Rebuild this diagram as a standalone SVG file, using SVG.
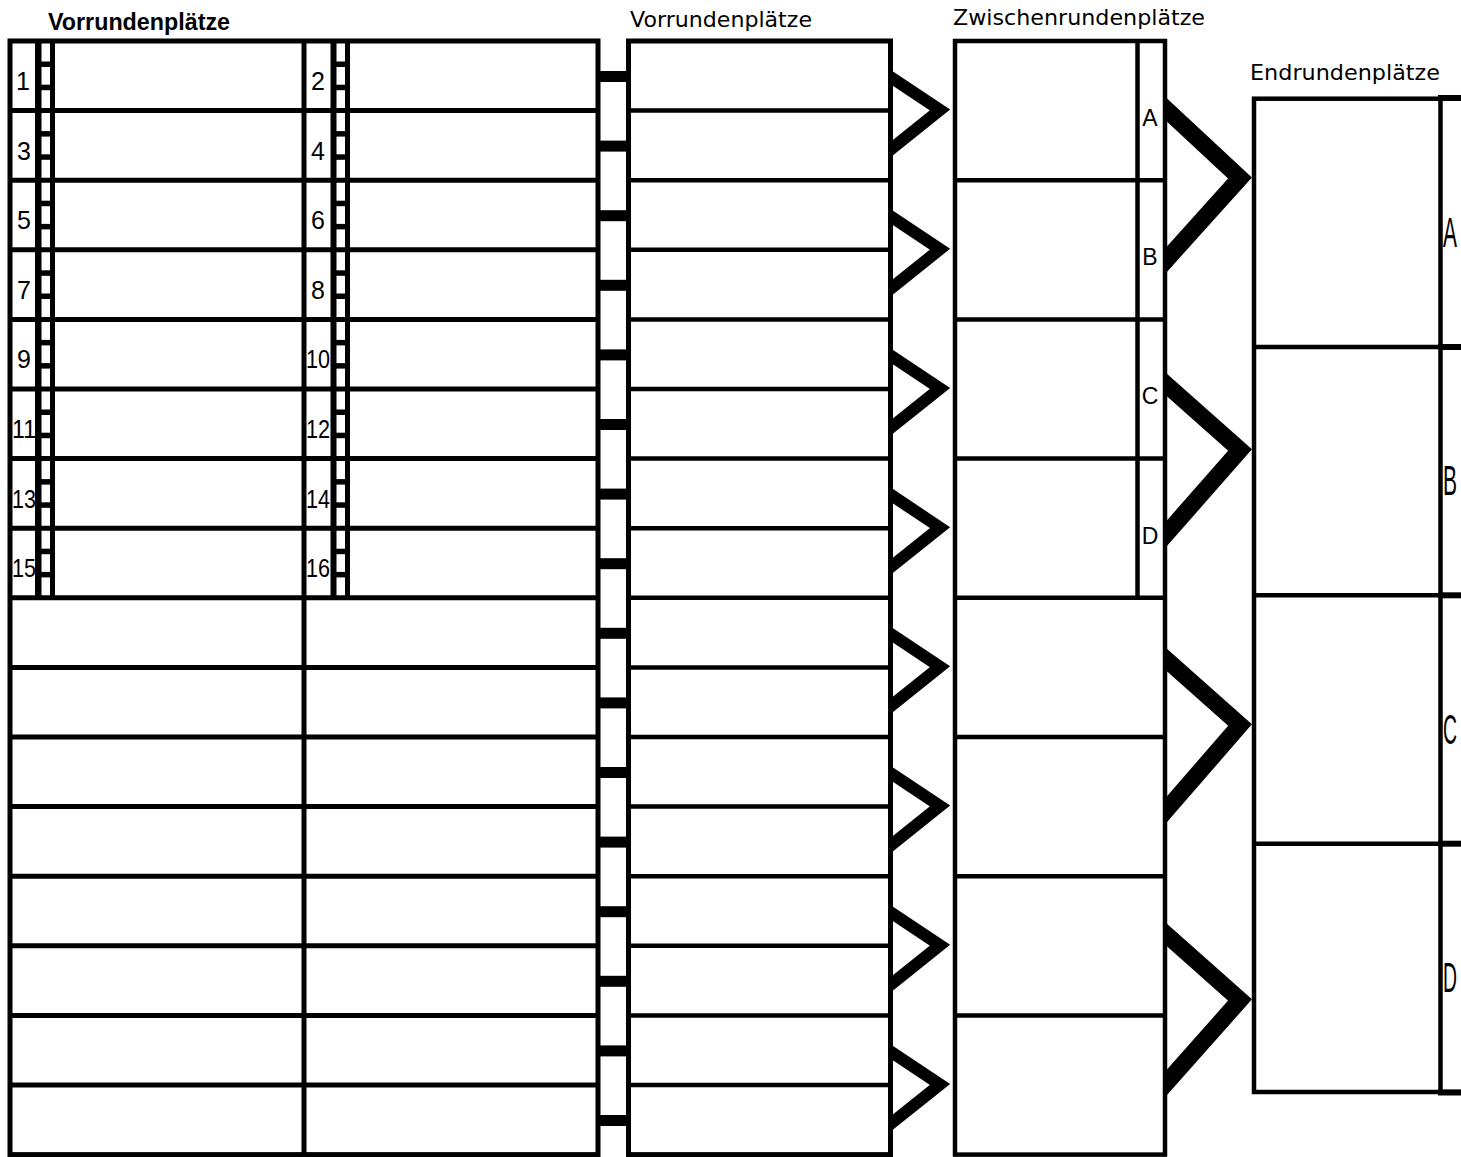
<svg xmlns="http://www.w3.org/2000/svg" width="1461" height="1157" viewBox="0 0 1461 1157">
<style>
.blk{fill:#fff;stroke:#000;stroke-width:5}
.ln{stroke:#000;stroke-width:5;fill:none}
.ln4{stroke:#000;stroke-width:4.5;fill:none}
.bar{fill:#000}
.chev{fill:none;stroke:#000;stroke-width:12;stroke-linejoin:miter;stroke-miterlimit:10}
.chevb{fill:none;stroke:#000;stroke-width:17;stroke-linejoin:miter;stroke-miterlimit:10}
.num{font-family:"Liberation Sans",Arial,sans-serif;font-size:25px;fill:#000;text-anchor:middle}
.let{font-family:"Liberation Sans",Arial,sans-serif;font-size:23px;fill:#000;text-anchor:middle}
.big{font-family:"Liberation Sans",Arial,sans-serif;font-size:42px;fill:#000}
.ttl{font-family:"DejaVu Sans",Verdana,sans-serif;font-size:22px;fill:#000}
.ttlb{font-family:"Liberation Sans",Arial,sans-serif;font-size:24px;font-weight:bold;fill:#000}
</style>
<rect x="0" y="0" width="1461" height="1157" fill="#fff"/>

<g id="titles">
<text class="ttlb" x="48" y="30" textLength="182" lengthAdjust="spacingAndGlyphs">Vorrundenplätze</text>
<text class="ttl" x="630" y="27" textLength="182" lengthAdjust="spacingAndGlyphs">Vorrundenplätze</text>
<text class="ttl" x="953" y="25" textLength="252" lengthAdjust="spacingAndGlyphs">Zwischenrundenplätze</text>
<text class="ttl" x="1250" y="80" textLength="190" lengthAdjust="spacingAndGlyphs">Endrundenplätze</text>
</g>

<g id="connectors">
<rect class="bar" x="596" y="71" width="34" height="11"/>
<rect class="bar" x="596" y="140.6" width="34" height="11"/>
<rect class="bar" x="596" y="210.2" width="34" height="11"/>
<rect class="bar" x="596" y="279.8" width="34" height="11"/>
<rect class="bar" x="596" y="349.4" width="34" height="11"/>
<rect class="bar" x="596" y="419" width="34" height="11"/>
<rect class="bar" x="596" y="488.6" width="34" height="11"/>
<rect class="bar" x="596" y="558.2" width="34" height="11"/>
<rect class="bar" x="596" y="627.8" width="34" height="11"/>
<rect class="bar" x="596" y="697.4" width="34" height="11"/>
<rect class="bar" x="596" y="767" width="34" height="11"/>
<rect class="bar" x="596" y="836.6" width="34" height="11"/>
<rect class="bar" x="596" y="906.2" width="34" height="11"/>
<rect class="bar" x="596" y="975.8" width="34" height="11"/>
<rect class="bar" x="596" y="1045.4" width="34" height="11"/>
<rect class="bar" x="596" y="1115" width="34" height="11"/>
<polyline class="chev" points="880,70 940,110 880,158"/>
<polyline class="chev" points="880,209.2 940,249.2 880,297.2"/>
<polyline class="chev" points="880,348.4 940,388.4 880,436.4"/>
<polyline class="chev" points="880,487.6 940,527.6 880,575.6"/>
<polyline class="chev" points="880,626.8 940,666.8 880,714.8"/>
<polyline class="chev" points="880,766 940,806 880,854"/>
<polyline class="chev" points="880,905.2 940,945.2 880,993.2"/>
<polyline class="chev" points="880,1044.4 940,1084.4 880,1132.4"/>
<polyline class="chevb" points="1150,94.3 1240,178 1150,278"/>
<polyline class="chevb" points="1150,370 1240,450 1150,552.5"/>
<polyline class="chevb" points="1150,645 1240,725 1150,828.8"/>
<polyline class="chevb" points="1150,920 1240,1000 1150,1101.3"/>
</g>

<g id="vorrunde-links">
<rect class="blk" x="10" y="41" width="588" height="1113.6"/>
<line class="ln" x1="304" y1="41" x2="304" y2="1154.6"/>
<line class="ln" x1="10" y1="110.6" x2="598" y2="110.6"/>
<line class="ln" x1="10" y1="180.2" x2="598" y2="180.2"/>
<line class="ln" x1="10" y1="249.8" x2="598" y2="249.8"/>
<line class="ln" x1="10" y1="319.4" x2="598" y2="319.4"/>
<line class="ln" x1="10" y1="389" x2="598" y2="389"/>
<line class="ln" x1="10" y1="458.6" x2="598" y2="458.6"/>
<line class="ln" x1="10" y1="528.2" x2="598" y2="528.2"/>
<line class="ln" x1="10" y1="597.8" x2="598" y2="597.8"/>
<line class="ln" x1="10" y1="667.4" x2="598" y2="667.4"/>
<line class="ln" x1="10" y1="737" x2="598" y2="737"/>
<line class="ln" x1="10" y1="806.6" x2="598" y2="806.6"/>
<line class="ln" x1="10" y1="876.2" x2="598" y2="876.2"/>
<line class="ln" x1="10" y1="945.8" x2="598" y2="945.8"/>
<line class="ln" x1="10" y1="1015.4" x2="598" y2="1015.4"/>
<line class="ln" x1="10" y1="1085" x2="598" y2="1085"/>
<g id="ladder-1">
<rect class="bar" x="35" y="41" width="6.5" height="557"/>
<rect class="bar" x="50" y="41" width="5" height="557"/>
<rect class="bar" x="40" y="61.5" width="12" height="5.5"/><rect class="bar" x="40" y="84.7" width="12" height="5.5"/>
<rect class="bar" x="40" y="131.1" width="12" height="5.5"/><rect class="bar" x="40" y="154.3" width="12" height="5.5"/>
<rect class="bar" x="40" y="200.7" width="12" height="5.5"/><rect class="bar" x="40" y="223.9" width="12" height="5.5"/>
<rect class="bar" x="40" y="270.3" width="12" height="5.5"/><rect class="bar" x="40" y="293.5" width="12" height="5.5"/>
<rect class="bar" x="40" y="339.9" width="12" height="5.5"/><rect class="bar" x="40" y="363.1" width="12" height="5.5"/>
<rect class="bar" x="40" y="409.5" width="12" height="5.5"/><rect class="bar" x="40" y="432.7" width="12" height="5.5"/>
<rect class="bar" x="40" y="479.1" width="12" height="5.5"/><rect class="bar" x="40" y="502.3" width="12" height="5.5"/>
<rect class="bar" x="40" y="548.7" width="12" height="5.5"/><rect class="bar" x="40" y="571.9" width="12" height="5.5"/>
</g>
<g id="ladder-2">
<rect class="bar" x="330.5" y="41" width="6" height="557"/>
<rect class="bar" x="345" y="41" width="5" height="557"/>
<rect class="bar" x="335" y="61.5" width="12" height="5.5"/><rect class="bar" x="335" y="84.7" width="12" height="5.5"/>
<rect class="bar" x="335" y="131.1" width="12" height="5.5"/><rect class="bar" x="335" y="154.3" width="12" height="5.5"/>
<rect class="bar" x="335" y="200.7" width="12" height="5.5"/><rect class="bar" x="335" y="223.9" width="12" height="5.5"/>
<rect class="bar" x="335" y="270.3" width="12" height="5.5"/><rect class="bar" x="335" y="293.5" width="12" height="5.5"/>
<rect class="bar" x="335" y="339.9" width="12" height="5.5"/><rect class="bar" x="335" y="363.1" width="12" height="5.5"/>
<rect class="bar" x="335" y="409.5" width="12" height="5.5"/><rect class="bar" x="335" y="432.7" width="12" height="5.5"/>
<rect class="bar" x="335" y="479.1" width="12" height="5.5"/><rect class="bar" x="335" y="502.3" width="12" height="5.5"/>
<rect class="bar" x="335" y="548.7" width="12" height="5.5"/><rect class="bar" x="335" y="571.9" width="12" height="5.5"/>
</g>
<g id="numbers">
<text class="num" x="23" y="90">1</text>
<text class="num" x="24" y="159.6">3</text>
<text class="num" x="24" y="229.2">5</text>
<text class="num" x="24" y="298.8">7</text>
<text class="num" x="24" y="368.4">9</text>
<text class="num" x="24" y="438" textLength="24" lengthAdjust="spacingAndGlyphs">11</text>
<text class="num" x="24" y="507.6" textLength="24" lengthAdjust="spacingAndGlyphs">13</text>
<text class="num" x="24" y="577.2" textLength="24" lengthAdjust="spacingAndGlyphs">15</text>
<text class="num" x="318" y="90">2</text>
<text class="num" x="318" y="159.6">4</text>
<text class="num" x="318" y="229.2">6</text>
<text class="num" x="318" y="298.8">8</text>
<text class="num" x="318" y="368.4" textLength="24" lengthAdjust="spacingAndGlyphs">10</text>
<text class="num" x="318" y="438" textLength="24" lengthAdjust="spacingAndGlyphs">12</text>
<text class="num" x="318" y="507.6" textLength="24" lengthAdjust="spacingAndGlyphs">14</text>
<text class="num" x="318" y="577.2" textLength="24" lengthAdjust="spacingAndGlyphs">16</text>
</g>
</g>

<g id="vorrunde-mitte">
<rect class="blk" x="628.5" y="41" width="262" height="1113.6"/>
<line class="ln4" x1="628.5" y1="110.6" x2="890.5" y2="110.6"/>
<line class="ln4" x1="628.5" y1="180.2" x2="890.5" y2="180.2"/>
<line class="ln4" x1="628.5" y1="249.8" x2="890.5" y2="249.8"/>
<line class="ln4" x1="628.5" y1="319.4" x2="890.5" y2="319.4"/>
<line class="ln4" x1="628.5" y1="389" x2="890.5" y2="389"/>
<line class="ln4" x1="628.5" y1="458.6" x2="890.5" y2="458.6"/>
<line class="ln4" x1="628.5" y1="528.2" x2="890.5" y2="528.2"/>
<line class="ln4" x1="628.5" y1="597.8" x2="890.5" y2="597.8"/>
<line class="ln4" x1="628.5" y1="667.4" x2="890.5" y2="667.4"/>
<line class="ln4" x1="628.5" y1="737" x2="890.5" y2="737"/>
<line class="ln4" x1="628.5" y1="806.6" x2="890.5" y2="806.6"/>
<line class="ln4" x1="628.5" y1="876.2" x2="890.5" y2="876.2"/>
<line class="ln4" x1="628.5" y1="945.8" x2="890.5" y2="945.8"/>
<line class="ln4" x1="628.5" y1="1015.4" x2="890.5" y2="1015.4"/>
<line class="ln4" x1="628.5" y1="1085" x2="890.5" y2="1085"/>
</g>

<g id="zwischenrunde">
<rect class="blk" x="955" y="41" width="210" height="1113.6" style="stroke-width:4.5"/>
<line class="ln4" x1="955" y1="180.2" x2="1165" y2="180.2"/>
<line class="ln4" x1="955" y1="319.4" x2="1165" y2="319.4"/>
<line class="ln4" x1="955" y1="458.6" x2="1165" y2="458.6"/>
<line class="ln4" x1="955" y1="597.8" x2="1165" y2="597.8"/>
<line class="ln4" x1="955" y1="737" x2="1165" y2="737"/>
<line class="ln4" x1="955" y1="876.2" x2="1165" y2="876.2"/>
<line class="ln4" x1="955" y1="1015.4" x2="1165" y2="1015.4"/>
<line class="ln4" x1="1137.5" y1="41" x2="1137.5" y2="597.8"/>
<text class="let" x="1150" y="126">A</text>
<text class="let" x="1150" y="265.2">B</text>
<text class="let" x="1150" y="404.4">C</text>
<text class="let" x="1150" y="543.6">D</text>
</g>

<g id="endrunde">
<rect x="1254" y="98.7" width="230" height="993.3" fill="#fff" stroke="#000" stroke-width="4.5"/>
<line class="ln4" x1="1254" y1="347" x2="1461" y2="347"/>
<line class="ln4" x1="1254" y1="595.3" x2="1461" y2="595.3"/>
<line class="ln4" x1="1254" y1="843.7" x2="1461" y2="843.7"/>
<line class="ln4" x1="1440.5" y1="96.5" x2="1440.5" y2="1095"/>
<line x1="1438" y1="98" x2="1461" y2="98" stroke="#000" stroke-width="6"/>
<line x1="1438" y1="347" x2="1461" y2="347" stroke="#000" stroke-width="6"/>
<line x1="1438" y1="595.3" x2="1461" y2="595.3" stroke="#000" stroke-width="6"/>
<line x1="1438" y1="843.7" x2="1461" y2="843.7" stroke="#000" stroke-width="6"/>
<line x1="1438" y1="1092.5" x2="1461" y2="1092.5" stroke="#000" stroke-width="6"/>
<text class="big" x="1443" y="247" textLength="14" lengthAdjust="spacingAndGlyphs">A</text>
<text class="big" x="1443" y="495.3" textLength="14" lengthAdjust="spacingAndGlyphs">B</text>
<text class="big" x="1443" y="743.6" textLength="14" lengthAdjust="spacingAndGlyphs">C</text>
<text class="big" x="1443" y="991.9" textLength="14" lengthAdjust="spacingAndGlyphs">D</text>
</g>
</svg>
